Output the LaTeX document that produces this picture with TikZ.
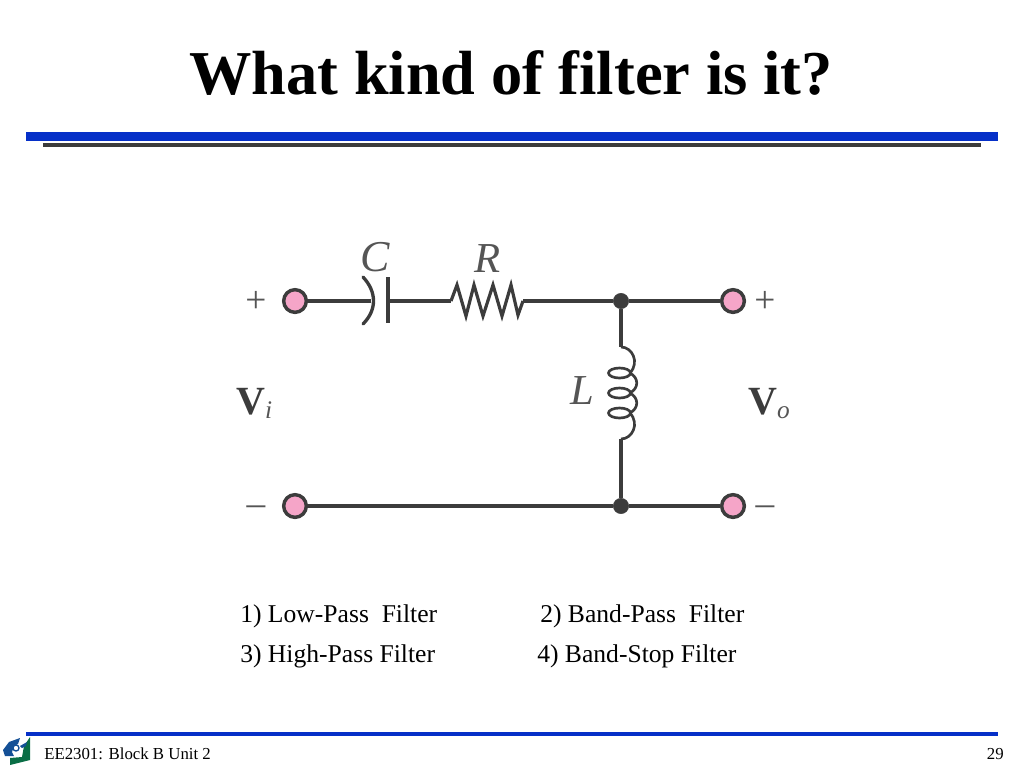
\documentclass[tikz,border=0pt]{standalone}
\usepackage{fontspec}
\setmainfont{Liberation Serif}
\definecolor{barblue}{RGB}{6,48,200}
\definecolor{wiregray}{RGB}{60,60,60}
\definecolor{labelgray}{RGB}{85,85,85}
\definecolor{termpink}{RGB}{245,165,200}
\definecolor{logoblue}{RGB}{20,80,150}
\definecolor{logogreen}{RGB}{10,110,70}
\tikzset{
    wire/.style={draw=wiregray, line width=2.5pt},
    coil/.style={draw=wiregray, line width=2pt},
    terminal/.style={circle, draw=wiregray, line width=2.6pt, fill=termpink, minimum size=17pt, inner sep=0pt},
    junction/.style={circle, draw=wiregray, fill=wiregray, minimum size=11.5pt, inner sep=0pt},
    circuit/.style={text=labelgray, font=\fontsize{28}{28}\selectfont},
    choice/.style={anchor=west, text=black, font=\fontsize{19.2}{22}\selectfont}
}
\begin{document}
\begin{tikzpicture}[x=0.75pt, y=-0.75pt]
    \useasboundingbox (0,0) rectangle (1024,768);
    % title and rules
    \node (title) at (511,73) {\fontsize{46.8}{50}\selectfont\bfseries What kind of filter is it?};
    \fill[barblue] (26,132) rectangle (998,141);
    \fill[wiregray] (43,143) rectangle (981,147);
    \fill[barblue] (26,732) rectangle (998,736);

    % terminals
    \node[terminal] (inp) at (295,301) {};
    \node[terminal] (outp) at (733,301) {};
    \node[terminal] (inm) at (295,506) {};
    \node[terminal] (outm) at (733,506) {};
    \node[junction] (top) at (621,301) {};
    \node[junction] (bot) at (621,506) {};

    % series branch
    \coordinate (capl) at (371,301);
    \coordinate (capr) at (388,301);
    \coordinate (resl) at (451,301);
    \coordinate (resr) at (523,301);
    \draw[wire] (inp) -- (capl);
    \draw[wire, line cap=round] (363,277) .. controls (377,292) and (377,310) .. (363,324);
    \draw[wire] (388,277) -- (388,323);
    \draw[wire] (capr) -- (resl);
    \draw[coil, line width=2.4pt, line join=miter] (resl) -- (457,285) -- (466,316) -- (474,285) -- (483,316)
        -- (493,285) -- (502,316) -- (511,285) -- (518,315) -- (resr);
    \draw[wire] (resr) -- (top);
    \draw[wire] (top) -- (outp);
    \draw[wire] (inm) -- (bot);
    \draw[wire] (bot) -- (outm);

    % inductor
    \coordinate (indt) at (621,347);
    \coordinate (indb) at (621,439);
    \draw[wire] (top) -- (indt);
    \draw[wire] (indb) -- (bot);
    \draw[coil] (indt) .. controls (632,347) and (640,362) .. (630,373);
    \draw[coil] (630,373) .. controls (639,378) and (639,388) .. (630,393);
    \draw[coil] (630,393) .. controls (639,398) and (639,408) .. (630,413);
    \draw[coil] (630,413) .. controls (640,424) and (632,439) .. (indb);
    \foreach \cy in {373,393,413}
        \draw[coil] (619.5,\cy) ellipse (11 and 5);

    % labels
    \node[circuit] (labc) at (375,257) {\fontsize{33}{33}\selectfont\itshape C};
    \node[circuit] (labr) at (488,259) {\fontsize{32}{32}\selectfont\itshape R};
    \node[circuit] (labl) at (582,391) {\fontsize{32}{32}\selectfont\itshape L};
    \node[circuit] (pi) at (256,302) {+};
    \node[circuit] (po) at (765,302) {+};
    \node[circuit] (mi) at (256,511) {\char"2013};
    \node[circuit] (mo) at (765,511) {\char"2013};
    \node[circuit, anchor=base west, inner sep=0pt] (vi) at (236,414) {\fontsize{30}{30}\selectfont\bfseries\textcolor{wiregray}{V}\raisebox{-3pt}{\fontsize{19}{19}\selectfont\mdseries\itshape i}};
    \node[circuit, anchor=base west, inner sep=0pt] (vo) at (748,414) {\fontsize{30}{30}\selectfont\bfseries\textcolor{wiregray}{V}\raisebox{-3pt}{\fontsize{19}{19}\selectfont\mdseries\itshape o}};

    % answers
    \node[choice, inner sep=0pt] (ansa) at (240,616) {1) Low-Pass\ \ Filter};
    \node[choice, inner sep=0pt] (ansb) at (540,616) {2) Band-Pass\ \ Filter};
    \node[choice, inner sep=0pt] (ansc) at (240,656) {3) High-Pass Filter};
    \node[choice, inner sep=0pt] (ansd) at (537,656) {4) Band-Stop Filter};

    % footer
    \fill[logoblue] (9,742) -- (20,738) -- (18,744) -- (14,746) -- (12,752) -- (14,756) -- (5,756) -- (3,750) -- cycle;
    \fill[logogreen] (30,737) -- (30,760) -- (10,765) -- (10,758) -- (22,757) -- (24,746) -- cycle;
    \draw[logoblue, line width=1pt] (16,748) circle (3);
    \fill[logoblue] (20,746) -- (27,742) -- (26,746) -- (22,748) -- cycle;
    \node[anchor=west, inner sep=0pt, font=\fontsize{12.6}{15}\selectfont] (foot) at (44,754) {EE2301: Block B Unit 2};
    \node[anchor=east, inner sep=0pt, font=\fontsize{12.6}{15}\selectfont] (page) at (1004,754) {29};
\end{tikzpicture}
\end{document}
